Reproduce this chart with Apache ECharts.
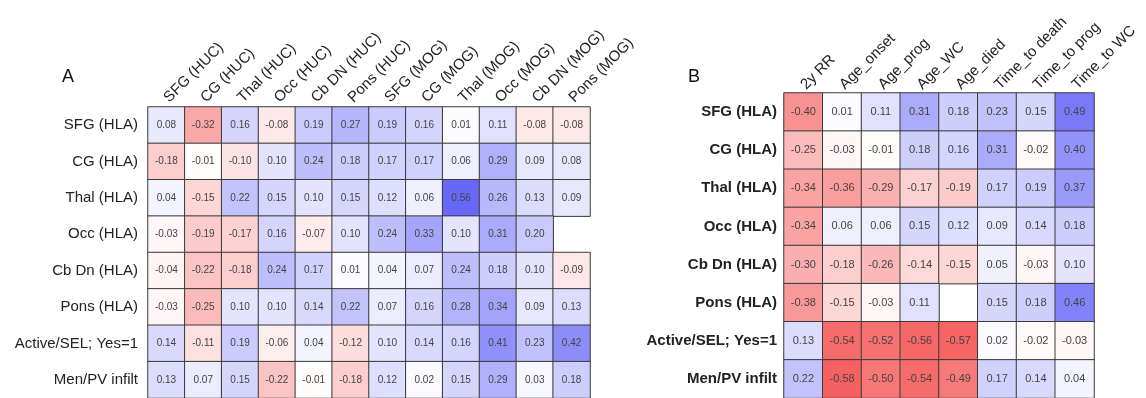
<!DOCTYPE html>
<html>
<head>
<meta charset="utf-8">
<script src="https://cdn.jsdelivr.net/npm/echarts@6/dist/echarts.min.js"></script>
<style>
html,body{margin:0;padding:0;background:#fff;}
#chart{width:1146px;height:398px;}
</style>
</head>
<body>
<div id="chart"></div>
<script>
const rowLabels = ['SFG (HLA)', 'CG (HLA)', 'Thal (HLA)', 'Occ (HLA)', 'Cb Dn (HLA)', 'Pons (HLA)', 'Active/SEL; Yes=1', 'Men/PV infilt'];
const colsA = ['SFG (HUC)', 'CG (HUC)', 'Thal (HUC)', 'Occ (HUC)', 'Cb DN (HUC)', 'Pons (HUC)', 'SFG (MOG)', 'CG (MOG)', 'Thal (MOG)', 'Occ (MOG)', 'Cb DN (MOG)', 'Pons (MOG)'];
const colsB = ['2y RR', 'Age_onset', 'Age_prog', 'Age_WC', 'Age_died', 'Time_to death', 'Time_to prog', 'Time_to WC'];

const valuesA = [
  [0.08, -0.32, 0.16, -0.08, 0.19, 0.27, 0.19, 0.16, 0.01, 0.11, -0.08, -0.08],
  [-0.18, -0.01, -0.10, 0.10, 0.24, 0.18, 0.17, 0.17, 0.06, 0.29, 0.09, 0.08],
  [0.04, -0.15, 0.22, 0.15, 0.10, 0.15, 0.12, 0.06, 0.56, 0.26, 0.13, 0.09],
  [-0.03, -0.19, -0.17, 0.16, -0.07, 0.10, 0.24, 0.33, 0.10, 0.31, 0.20, null],
  [-0.04, -0.22, -0.18, 0.24, 0.17, 0.01, 0.04, 0.07, 0.24, 0.18, 0.10, -0.09],
  [-0.03, -0.25, 0.10, 0.10, 0.14, 0.22, 0.07, 0.16, 0.28, 0.34, 0.09, 0.13],
  [0.14, -0.11, 0.19, -0.06, 0.04, -0.12, 0.10, 0.14, 0.16, 0.41, 0.23, 0.42],
  [0.13, 0.07, 0.15, -0.22, -0.01, -0.18, 0.12, 0.02, 0.15, 0.29, 0.03, 0.18]
];
const valuesB = [
  [-0.40, 0.01, 0.11, 0.31, 0.18, 0.23, 0.15, 0.49],
  [-0.25, -0.03, -0.01, 0.18, 0.16, 0.31, -0.02, 0.40],
  [-0.34, -0.36, -0.29, -0.17, -0.19, 0.17, 0.19, 0.37],
  [-0.34, 0.06, 0.06, 0.15, 0.12, 0.09, 0.14, 0.18],
  [-0.30, -0.18, -0.26, -0.14, -0.15, 0.05, -0.03, 0.10],
  [-0.38, -0.15, -0.03, 0.11, null, 0.15, 0.18, 0.46],
  [0.13, -0.54, -0.52, -0.56, -0.57, 0.02, -0.02, -0.03],
  [0.22, -0.58, -0.50, -0.54, -0.49, 0.17, 0.14, 0.04]
];

function toData(vals) {
  const out = [];
  vals.forEach((row, r) => row.forEach((v, c) => {
    if (v !== null) out.push([c, r, v]);
  }));
  return out;
}

const FONT = 'Liberation Sans, Arial, sans-serif';
const chart = echarts.init(document.getElementById('chart'), null, {renderer: 'canvas'});

chart.setOption({
  animation: false,
  backgroundColor: '#ffffff',
  graphic: [
    {type: 'text', left: 62, top: 68, style: {text: 'A', fontSize: 18, fontFamily: FONT, fill: '#111'}},
    {type: 'text', left: 688, top: 68, style: {text: 'B', fontSize: 18, fontFamily: FONT, fill: '#111'}}
  ],
  visualMap: {
    show: false, min: -0.6, max: 0.6, seriesIndex: [0, 1],
    inRange: {color: ['#f55c5c', '#ffffff', '#5c5cf8']}
  },
  grid: [
    {left: 148, top: 107, width: 442, height: 296},
    {left: 784, top: 93, width: 310, height: 311}
  ],
  xAxis: [
    {type: 'category', gridIndex: 0, data: colsA, position: 'top',
     axisLine: {show: false}, axisTick: {show: false}, splitLine: {show: false},
     axisLabel: {rotate: -45, margin: 7, fontSize: 15, fontFamily: FONT, color: '#222', interval: 0}},
    {type: 'category', gridIndex: 1, data: colsB, position: 'top',
     axisLine: {show: false}, axisTick: {show: false}, splitLine: {show: false},
     axisLabel: {rotate: -45, margin: 6, fontSize: 15, fontFamily: FONT, color: '#222', interval: 0}}
  ],
  yAxis: [
    {type: 'category', gridIndex: 0, data: rowLabels, inverse: true,
     axisLine: {show: false}, axisTick: {show: false}, splitLine: {show: false},
     axisLabel: {margin: 10, fontSize: 15, fontFamily: FONT, color: '#222', interval: 0}},
    {type: 'category', gridIndex: 1, data: rowLabels, inverse: true,
     axisLine: {show: false}, axisTick: {show: false}, splitLine: {show: false},
     axisLabel: {margin: 7, fontSize: 15, fontWeight: 'bold', fontFamily: FONT, color: '#222', interval: 0}}
  ],
  series: [
    {type: 'heatmap', xAxisIndex: 0, yAxisIndex: 0, data: toData(valuesA),
     itemStyle: {borderColor: '#3a3a3a', borderWidth: 1},
     label: {show: true, fontSize: 10, fontFamily: FONT, color: '#444',
       formatter: p => p.value[2].toFixed(2)}},
    {type: 'heatmap', xAxisIndex: 1, yAxisIndex: 1, data: toData(valuesB),
     itemStyle: {borderColor: '#3a3a3a', borderWidth: 1},
     label: {show: true, fontSize: 11, fontFamily: FONT, color: '#444',
       formatter: p => p.value[2].toFixed(2)}}
  ]
});
</script>
</body>
</html>
